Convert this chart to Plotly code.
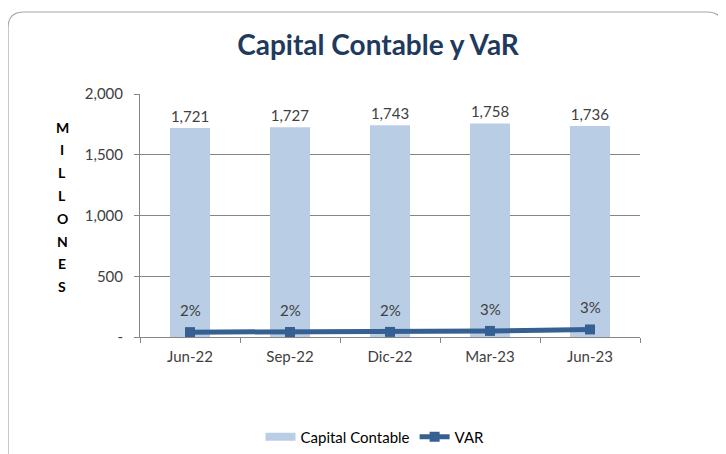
import plotly.graph_objects as go

categories = ["Jun-22", "Sep-22", "Dic-22", "Mar-23", "Jun-23"]
capital = [1721, 1727, 1743, 1758, 1736]
var_values = [40, 41, 42, 50, 62]
var_labels = ["2%", "2%", "2%", "3%", "3%"]
y_ticks = [0, 500, 1000, 1500, 2000]
y_tick_text = ["-", "500", "1,000", "1,500", "2,000"]
axis_label = "MILLONES"

FONT = "Lato"
BAR_COLOR = "#B9CDE5"
LINE_COLOR = "#376092"
OFF = 8  # page body margin
W, H = 726 - OFF, 454 - OFF
L = 140 - OFF
T = 94 - OFF
pw = 500
R = W - L - pw
B = H - (337 - OFF)
ph = H - T - B

def px(x):
    return (x - OFF - L) / pw
def py(y):
    return (H - B - (y - OFF)) / ph

fig = go.Figure()
fig.add_trace(go.Bar(
    x=categories, y=capital, name="Capital Contable", showlegend=False,
    marker=dict(color=BAR_COLOR, line=dict(width=0)), width=0.4,
    text=[f"{v:,}" for v in capital], textposition="outside",
    textfont=dict(size=15, color="#404040", family=FONT), cliponaxis=False,
))
# legend entry drawn as a wide swatch like the original
fig.add_trace(go.Scatter(
    x=[None], y=[None], name="Capital Contable", mode="lines",
    line=dict(color=BAR_COLOR, width=8),
))
fig.add_trace(go.Scatter(
    x=categories, y=var_values, name="VAR", mode="lines+markers",
    line=dict(color=LINE_COLOR, width=5),
    marker=dict(symbol="square", size=10, color=LINE_COLOR),
    cliponaxis=False,
))
for c, v, t in zip(categories, var_values, var_labels):
    fig.add_annotation(x=c, y=v, text=t, showarrow=False, yshift=22,
                       font=dict(size=15, color="#404040", family=FONT))

# rounded border
x0, x1, y0, y1 = 8, 723, 12, 480
r = 16
path = (f"M {px(x0+r)},{py(y0)} L {px(x1-r)},{py(y0)} Q {px(x1)},{py(y0)} {px(x1)},{py(y0+r)} "
        f"L {px(x1)},{py(y1-r)} Q {px(x1)},{py(y1)} {px(x1-r)},{py(y1)} "
        f"L {px(x0+r)},{py(y1)} Q {px(x0)},{py(y1)} {px(x0)},{py(y1-r)} "
        f"L {px(x0)},{py(y0+r)} Q {px(x0)},{py(y0)} {px(x0+r)},{py(y0)} Z")
fig.add_shape(type="path", xref="paper", yref="paper", path=path,
              line=dict(color="#A6A6A6", width=1.2), layer="below")

for i, ch in enumerate(axis_label):
    fig.add_annotation(text=f"<b>{ch}</b>", xref="paper", yref="paper",
                       x=px(62), y=py(127 + i * 22.8), showarrow=False,
                       xanchor="center", yanchor="middle",
                       font=dict(size=14, color="#000000", family=FONT))

fig.update_layout(
    width=W, height=H,
    margin=dict(l=L, r=R, t=T, b=B, autoexpand=False),
    paper_bgcolor="white", plot_bgcolor="white",
    title=dict(text="<b>Capital Contable y VaR</b>", x=(378 - OFF) / W, xanchor="center",
               y=1 - (45 - OFF) / H, yanchor="middle", yref="container",
               font=dict(size=28, color="#1F3A5C", family=FONT)),
    font=dict(family=FONT, size=15, color="#404040"),
    showlegend=True,
    legend=dict(orientation="h", x=px(375), xanchor="center", y=py(437), yanchor="middle",
                font=dict(size=15, color="#000000", family=FONT), itemwidth=30,
                tracegroupgap=0),
)
fig.update_xaxes(showline=True, linecolor="#868686", linewidth=1, ticks="outside",
                 tickson="boundaries", ticklen=5, tickcolor="#868686",
                 ticklabelstandoff=6,
                 tickfont=dict(size=15, color="#404040"), showgrid=False)
fig.update_yaxes(range=[0, 2000], tickvals=y_ticks, ticktext=y_tick_text,
                 showline=True, linecolor="#868686", linewidth=1, ticks="outside",
                 ticklen=5, tickcolor="#868686", showgrid=True, gridcolor="#868686",
                 ticklabelstandoff=8,
                 gridwidth=1, zeroline=False, tickfont=dict(size=15, color="#404040"))

fig.write_html("out.html")
